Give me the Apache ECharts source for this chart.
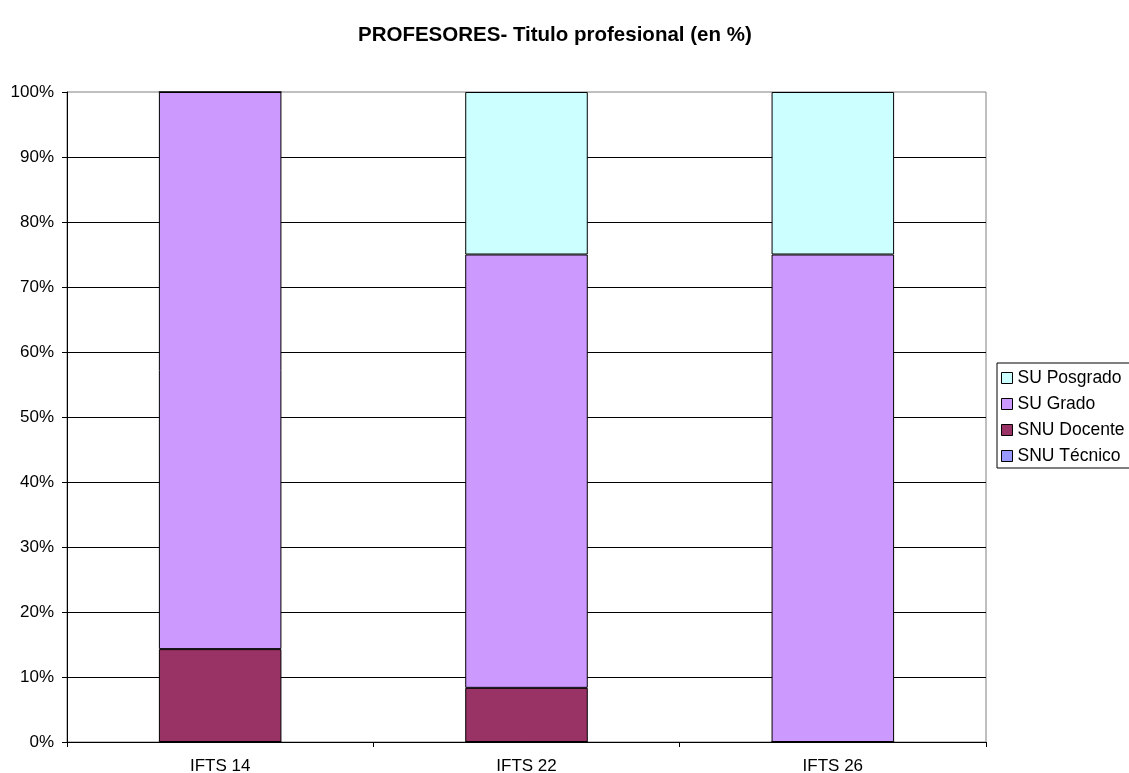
<!DOCTYPE html>
<html>
<head>
<meta charset="utf-8">
<script src="https://cdn.jsdelivr.net/npm/echarts@6/dist/echarts.min.js"></script>
<style>
  html, body { margin: 0; padding: 0; background: #fff; }
  #chart { width: 1129px; height: 773px; }
</style>
</head>
<body>
<div id="chart"></div>
<script>
// Institutes on the x axis
const categories = ['IFTS 14', 'IFTS 22', 'IFTS 26'];

// Share of teachers by professional degree (%), stacked bottom to top
const snuTecnico = [0, 0, 0];
const snuDocente = [14.29, 8.33, 0];
const suGrado = [85.71, 66.67, 75];
const suPosgrado = [0, 25, 25];

const seriesNames = ['SNU Técnico', 'SNU Docente', 'SU Grado', 'SU Posgrado'];
const seriesColors = ['#9999FF', '#993366', '#CC99FF', '#CCFFFF'];
const seriesData = [snuTecnico, snuDocente, suGrado, suPosgrado];

const font = 'Arial, "Liberation Sans", sans-serif';

const chart = echarts.init(document.getElementById('chart'), null, { renderer: 'canvas' });

chart.setOption({
  animation: false,
  backgroundColor: '#ffffff',
  title: {
    text: 'PROFESORES- Titulo profesional (en %)',
    left: 353,
    top: 20,
    textStyle: { fontFamily: font, fontSize: 20.5, fontWeight: 'bold', color: '#000' }
  },
  legend: {
    orient: 'vertical',
    left: 997,
    top: 363,
    padding: [5, 12, 2, 4],
    itemGap: 6,
    itemWidth: 11,
    itemHeight: 11,
    icon: 'rect',
    itemStyle: { borderColor: '#000', borderWidth: 1 },
    borderColor: '#000',
    borderWidth: 1,
    backgroundColor: '#fff',
    textStyle: { fontFamily: font, fontSize: 17.5, color: '#000', lineHeight: 20, padding: [0, 0, 0, 0] },
    data: ['SU Posgrado', 'SU Grado', 'SNU Docente', 'SNU Técnico']
  },
  grid: {
    left: 67,
    right: 143,
    top: 92,
    bottom: 31,
    outerBoundsMode: 'none',
    show: true,
    borderColor: '#808080',
    borderWidth: 1,
    backgroundColor: '#fff'
  },
  xAxis: {
    type: 'category',
    data: categories,
    axisLine: { show: true, lineStyle: { color: '#000', width: 1 } },
    axisTick: { show: true, alignWithLabel: false, length: 5, lineStyle: { color: '#000' } },
    axisLabel: { fontFamily: font, fontSize: 17, color: '#000', margin: 16 },
    splitLine: { show: false }
  },
  yAxis: {
    type: 'value',
    min: 0,
    max: 100,
    interval: 10,
    axisLine: { show: true, lineStyle: { color: '#000', width: 1 } },
    axisTick: { show: true, length: 5, lineStyle: { color: '#000' } },
    axisLabel: { fontFamily: font, fontSize: 17, color: '#000', margin: 13, formatter: '{value}%' },
    splitLine: { show: true, showMaxLine: false, lineStyle: { color: '#000', width: 1 } }
  },
  series: seriesNames.map((name, i) => ({
    name: name,
    type: 'bar',
    stack: 'total',
    barWidth: '40%',
    data: seriesData[i],
    itemStyle: { color: seriesColors[i], borderColor: '#000', borderWidth: 1 }
  }))
});
</script>
</body>
</html>
